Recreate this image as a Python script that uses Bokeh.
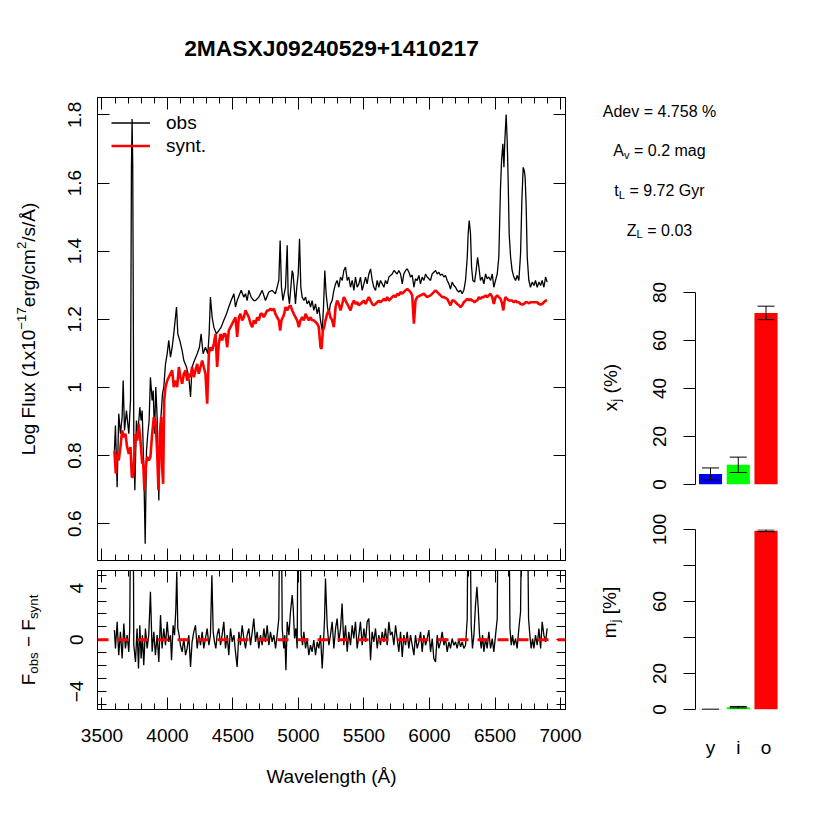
import math
from bokeh.plotting import figure
from bokeh.models import (Range1d, FixedTicker, CustomJSTickFormatter, LinearAxis,
                          Legend, LegendItem, Span, Whisker, TeeHead, ColumnDataSource)
from bokeh.layouts import row, column
from bokeh.embed import file_html
from bokeh.resources import INLINE
from bokeh.core.properties import value

# ---------------- data ----------------
title_text = "2MASXJ09240529+1410217"

obs_wave = [3595, 3603, 3616, 3628, 3641, 3654, 3662, 3672, 3687, 3705, 3718, 3725, 3730, 3735, 3743, 3751,
            3763, 3774, 3789, 3799, 3807, 3819, 3830, 3840, 3850, 3860, 3870, 3883, 3891, 3901, 3911, 3921,
            3934, 3942, 3952, 3962, 3972, 3985, 3998, 4010, 4023, 4036, 4048, 4069, 4079, 4094, 4112, 4125,
            4145, 4163, 4176, 4188, 4206, 4227, 4244, 4257, 4272, 4290, 4308, 4318, 4328, 4341, 4354, 4374,
            4392, 4410, 4430, 4451, 4468, 4486, 4507, 4519, 4532, 4552, 4563, 4583, 4596, 4608, 4621, 4639,
            4659, 4672, 4697, 4723, 4748, 4774, 4799, 4824, 4837, 4850, 4860, 4870, 4881, 4891, 4901, 4914,
            4921, 4931, 4942, 4952, 4959, 4967, 4977, 4987, 4998, 5008, 5018, 5028, 5041, 5054, 5066, 5079,
            5092, 5104, 5117, 5130, 5143, 5155, 5168, 5181, 5191, 5201, 5211, 5222, 5232, 5244, 5257, 5270,
            5283, 5295, 5308, 5321, 5334, 5346, 5359, 5372, 5384, 5397, 5410, 5423, 5435, 5448, 5461, 5473,
            5486, 5499, 5512, 5524, 5537, 5550, 5563, 5575, 5588, 5601, 5613, 5626, 5639, 5652, 5664, 5677,
            5690, 5715, 5728, 5741, 5753, 5766, 5779, 5792, 5804, 5817, 5830, 5843, 5855, 5868, 5881, 5893,
            5906, 5919, 5931, 5944, 5957, 5970, 5982, 6008, 6020, 6033, 6046, 6059, 6071, 6084, 6097, 6110,
            6122, 6135, 6148, 6160, 6173, 6186, 6199, 6211, 6224, 6237, 6249, 6262, 6275, 6288, 6295, 6303,
            6313, 6321, 6331, 6344, 6356, 6367, 6377, 6389, 6402, 6415, 6428, 6440, 6453, 6466, 6479, 6491,
            6504, 6517, 6529, 6542, 6550, 6560, 6568, 6575, 6585, 6593, 6601, 6608, 6619, 6631, 6644, 6657,
            6669, 6682, 6695, 6705, 6715, 6723, 6730, 6738, 6746, 6758, 6771, 6784, 6797, 6809, 6822, 6835,
            6848, 6860, 6873, 6886, 6898]
obs_flux = [0.815, 0.888, 0.707, 0.923, 0.864, 0.913, 1.020, 0.874, 0.932, 0.864, 0.962, 1.646, 1.788, 1.646, 0.864, 0.698,
            0.903, 0.864, 0.942, 0.903, 0.932, 0.766, 0.541, 0.815, 0.864, 0.903, 1.030, 0.962, 0.991, 0.864, 1.001, 0.913,
            0.668, 0.864, 0.923, 0.981, 1.001, 1.069, 1.099, 1.138, 1.089, 1.118, 1.157, 1.236, 1.157, 1.138, 1.108, 1.079,
            1.060, 1.030, 0.972, 1.060, 1.079, 1.099, 1.118, 1.157, 1.099, 1.118, 1.099, 1.157, 1.265, 1.206, 1.177, 1.157,
            1.167, 1.177, 1.197, 1.216, 1.236, 1.255, 1.275, 1.236, 1.255, 1.275, 1.285, 1.265, 1.275, 1.255, 1.285, 1.265,
            1.255, 1.255, 1.265, 1.285, 1.255, 1.280, 1.285, 1.275, 1.294, 1.314, 1.431, 1.294, 1.255, 1.275, 1.294, 1.417,
            1.275, 1.245, 1.294, 1.343, 1.333, 1.294, 1.245, 1.294, 1.333, 1.436, 1.294, 1.265, 1.255, 1.265, 1.245, 1.255,
            1.236, 1.255, 1.226, 1.245, 1.216, 1.236, 1.197, 1.167, 1.236, 1.343, 1.275, 1.236, 1.216, 1.245, 1.255, 1.285,
            1.304, 1.314, 1.294, 1.324, 1.314, 1.343, 1.353, 1.314, 1.324, 1.294, 1.314, 1.285, 1.324, 1.294, 1.304, 1.324,
            1.285, 1.304, 1.324, 1.304, 1.333, 1.348, 1.314, 1.294, 1.285, 1.314, 1.294, 1.314, 1.304, 1.294, 1.314, 1.304,
            1.324, 1.333, 1.343, 1.338, 1.333, 1.343, 1.333, 1.304, 1.333, 1.343, 1.348, 1.338, 1.324, 1.330, 1.294, 1.319,
            1.314, 1.329, 1.304, 1.324, 1.314, 1.333, 1.324, 1.314, 1.333, 1.338, 1.343, 1.333, 1.338, 1.329, 1.333, 1.324,
            1.329, 1.314, 1.304, 1.289, 1.309, 1.299, 1.294, 1.285, 1.280, 1.285, 1.275, 1.285, 1.314, 1.382, 1.451, 1.490,
            1.451, 1.353, 1.314, 1.309, 1.343, 1.382, 1.353, 1.314, 1.324, 1.304, 1.333, 1.319, 1.324, 1.314, 1.333, 1.294,
            1.314, 1.333, 1.382, 1.588, 1.666, 1.715, 1.646, 1.725, 1.801, 1.725, 1.597, 1.451, 1.382, 1.343, 1.324, 1.314,
            1.329, 1.314, 1.392, 1.549, 1.646, 1.637, 1.617, 1.529, 1.382, 1.314, 1.294, 1.309, 1.299, 1.314, 1.294, 1.309,
            1.299, 1.314, 1.294, 1.324, 1.309]

syn_wave = [3595, 3606, 3616, 3628, 3641, 3654, 3667, 3679, 3692, 3705, 3718, 3728, 3738, 3748, 3758, 3769,
            3781, 3794, 3807, 3814, 3824, 3835, 3845, 3858, 3870, 3883, 3896, 3908, 3921, 3931, 3942, 3952,
            3959, 3967, 3975, 3985, 3998, 4010, 4023, 4036, 4048, 4061, 4074, 4087, 4099, 4112, 4125, 4138,
            4150, 4163, 4176, 4188, 4201, 4214, 4227, 4239, 4252, 4265, 4277, 4290, 4303, 4316, 4328, 4341,
            4354, 4367, 4379, 4392, 4405, 4417, 4430, 4443, 4456, 4468, 4481, 4494, 4507, 4519, 4532, 4545,
            4557, 4570, 4583, 4596, 4608, 4621, 4634, 4647, 4659, 4672, 4685, 4697, 4710, 4723, 4735, 4748,
            4761, 4774, 4786, 4799, 4812, 4824, 4837, 4850, 4860, 4870, 4881, 4891, 4901, 4914, 4926, 4939,
            4952, 4964, 4977, 4990, 5003, 5015, 5028, 5041, 5054, 5066, 5079, 5092, 5104, 5117, 5130, 5143,
            5155, 5168, 5176, 5186, 5196, 5206, 5219, 5232, 5244, 5257, 5270, 5283, 5295, 5308, 5321, 5334,
            5346, 5359, 5372, 5384, 5397, 5410, 5423, 5435, 5448, 5461, 5473, 5486, 5499, 5512, 5524, 5537,
            5550, 5563, 5575, 5588, 5601, 5613, 5626, 5639, 5652, 5664, 5677, 5690, 5715, 5728, 5741, 5753,
            5766, 5779, 5792, 5804, 5817, 5830, 5843, 5855, 5868, 5881, 5893, 5906, 5931, 5957, 5982, 6008,
            6033, 6046, 6059, 6071, 6084, 6097, 6110, 6135, 6148, 6160, 6173, 6186, 6199, 6211, 6224, 6237,
            6249, 6262, 6275, 6288, 6303, 6313, 6321, 6331, 6344, 6356, 6364, 6377, 6389, 6402, 6415, 6428,
            6440, 6453, 6466, 6479, 6491, 6504, 6517, 6529, 6542, 6555, 6563, 6573, 6580, 6593, 6606, 6619,
            6631, 6644, 6657, 6669, 6682, 6695, 6708, 6720, 6733, 6746, 6758, 6771, 6784, 6797, 6822, 6835,
            6848, 6860, 6873, 6886, 6898]
syn_flux = [0.815, 0.747, 0.805, 0.786, 0.825, 0.874, 0.854, 0.864, 0.825, 0.805, 0.825, 0.737, 0.737, 0.805, 0.864, 0.844,
            0.893, 0.844, 0.776, 0.786, 0.698, 0.766, 0.796, 0.786, 0.796, 0.864, 0.913, 0.903, 0.815, 0.698, 0.864, 0.913,
            0.766, 0.717, 0.962, 1.001, 1.020, 1.030, 1.040, 1.050, 1.001, 1.020, 1.001, 1.060, 1.030, 1.011, 1.040, 1.050,
            1.020, 1.040, 1.030, 1.060, 1.030, 1.050, 1.069, 1.040, 1.060, 1.079, 1.060, 1.040, 0.952, 1.099, 1.118, 1.108,
            1.128, 1.157, 1.060, 1.128, 1.157, 1.138, 1.157, 1.157, 1.118, 1.167, 1.177, 1.187, 1.197, 1.206, 1.148, 1.206,
            1.216, 1.197, 1.206, 1.226, 1.216, 1.206, 1.187, 1.177, 1.197, 1.187, 1.206, 1.197, 1.216, 1.216, 1.206, 1.216,
            1.226, 1.226, 1.231, 1.226, 1.231, 1.216, 1.206, 1.197, 1.167, 1.197, 1.206, 1.216, 1.236, 1.226, 1.236, 1.241,
            1.226, 1.216, 1.206, 1.197, 1.177, 1.197, 1.206, 1.197, 1.216, 1.206, 1.197, 1.206, 1.197, 1.197, 1.192, 1.187,
            1.177, 1.118, 1.113, 1.167, 1.177, 1.197, 1.216, 1.226, 1.206, 1.197, 1.177, 1.236, 1.255, 1.245, 1.226, 1.245,
            1.265, 1.255, 1.245, 1.236, 1.226, 1.245, 1.255, 1.245, 1.250, 1.241, 1.245, 1.250, 1.255, 1.245, 1.255, 1.265,
            1.255, 1.245, 1.241, 1.245, 1.250, 1.255, 1.250, 1.255, 1.260, 1.255, 1.265, 1.255, 1.265, 1.270, 1.265, 1.275,
            1.270, 1.280, 1.275, 1.280, 1.285, 1.289, 1.285, 1.280, 1.270, 1.187, 1.255, 1.265, 1.270, 1.275, 1.265, 1.270,
            1.280, 1.285, 1.280, 1.275, 1.270, 1.265, 1.265, 1.260, 1.250, 1.241, 1.255, 1.255, 1.250, 1.245, 1.241, 1.236,
            1.241, 1.250, 1.255, 1.260, 1.255, 1.260, 1.255, 1.255, 1.250, 1.255, 1.255, 1.265, 1.260, 1.265, 1.265, 1.270,
            1.265, 1.270, 1.275, 1.265, 1.245, 1.265, 1.270, 1.265, 1.260, 1.245, 1.226, 1.255, 1.265, 1.260, 1.255, 1.255,
            1.255, 1.250, 1.255, 1.250, 1.250, 1.245, 1.243, 1.245, 1.250, 1.250, 1.247, 1.250, 1.250, 1.250, 1.250, 1.245,
            1.243, 1.245, 1.250, 1.255, 1.255]

res_wave = [3595, 3603, 3616, 3628, 3641, 3654, 3667, 3679, 3692, 3705, 3712, 3720, 3730, 3738, 3743, 3756,
            3768, 3779, 3789, 3799, 3809, 3819, 3832, 3845, 3857, 3870, 3883, 3896, 3908, 3921, 3934, 3947,
            3959, 3972, 3985, 3998, 4010, 4023, 4031, 4043, 4054, 4064, 4071, 4079, 4089, 4099, 4112, 4125,
            4138, 4150, 4163, 4176, 4188, 4201, 4214, 4227, 4239, 4252, 4265, 4277, 4290, 4303, 4316, 4328,
            4339, 4349, 4359, 4369, 4379, 4392, 4405, 4417, 4430, 4443, 4456, 4468, 4481, 4494, 4507, 4519,
            4532, 4545, 4557, 4570, 4583, 4596, 4608, 4621, 4634, 4647, 4659, 4672, 4685, 4697, 4710, 4723,
            4736, 4748, 4761, 4774, 4786, 4799, 4812, 4825, 4837, 4850, 4858, 4868, 4876, 4888, 4896, 4904,
            4914, 4927, 4939, 4952, 4960, 4970, 4980, 4990, 4998, 5010, 5021, 5031, 5041, 5054, 5066, 5079,
            5092, 5104, 5117, 5130, 5143, 5155, 5168, 5181, 5189, 5199, 5206, 5219, 5232, 5244, 5257, 5270,
            5283, 5295, 5308, 5321, 5333, 5346, 5359, 5372, 5384, 5397, 5410, 5422, 5435, 5448, 5461, 5473,
            5486, 5499, 5512, 5524, 5537, 5550, 5562, 5575, 5588, 5601, 5613, 5626, 5639, 5652, 5664, 5677,
            5690, 5702, 5715, 5728, 5741, 5753, 5766, 5779, 5792, 5804, 5817, 5830, 5842, 5855, 5868, 5881,
            5893, 5906, 5919, 5932, 5944, 5957, 5970, 5982, 5995, 6008, 6021, 6033, 6046, 6059, 6071, 6084,
            6097, 6110, 6122, 6135, 6148, 6160, 6173, 6186, 6199, 6211, 6224, 6237, 6250, 6262, 6275, 6288,
            6295, 6308, 6318, 6328, 6339, 6351, 6362, 6372, 6382, 6395, 6405, 6415, 6428, 6440, 6453, 6466,
            6479, 6491, 6504, 6517, 6524, 6535, 6568, 6596, 6606, 6614, 6624, 6634, 6644, 6657, 6669, 6682,
            6695, 6705, 6715, 6746, 6756, 6766, 6776, 6787, 6797, 6809, 6822, 6835, 6848, 6860, 6873, 6886,
            6898]
res_flux = [0.75, -0.67, 1.39, -1.19, 0.62, -1.45, 1.26, -0.67, 0.36, -0.93, 0.88, 12, 12, 12, -0.42, -1.71,
            0.88, -2.23, 1.13, -1.45, 0.36, -1.97, 0.88, -0.67, 0.36, 3.72, -0.93, 0.62, -1.19, 0.36, -1.71, 1.91,
            -0.67, 0.88, -0.42, 1.39, -0.16, 0.36, -1.58, 1.13, 0.36, 2.43, 5.27, 0.88, 0.36, -0.42, -0.93, 0.10,
            -1.19, -0.67, 0.36, -2.10, -0.16, 0.62, 1.13, -0.67, 0.36, -0.42, 0.62, -0.67, 0.10, 0.88, -0.42, 0.36,
            5.01, 0.62, -0.16, -0.67, 0.36, 0.88, -0.42, 0.36, 1.39, -0.67, 0.36, -1.19, 0.88, -0.16, 0.36, -0.93,
            -2.10, 0.62, -0.42, 1.13, 0.10, -0.67, 0.36, 0.88, -0.42, 0.62, 1.65, -0.16, 0.62, -0.67, 0.36, -0.42,
            0.88, -0.16, 1.13, -0.42, 0.62, -0.16, 0.36, -0.67, 0.36, 1.65, 12, 12, 0.88, -0.67, 0.36, -2.35,
            1.39, 0.36, 2.17, 3.46, 2.43, 0.10, 0.88, -0.67, 12, 12, 0.36, -0.42, 0.62, -0.67, 0.10, -1.19,
            -0.42, -0.93, -0.03, -1.19, -0.16, -0.67, 0.36, -2.23, -0.67, 1.65, 4.75, 1.13, -0.42, 0.36, 1.39, -0.67,
            0.88, 1.65, -0.16, 0.88, 2.81, -0.42, 1.13, -0.93, 0.62, -0.42, 1.13, 0.10, 1.39, -0.67, 0.36, 1.39,
            -0.42, 0.88, -0.16, 1.39, 1.65, -1.58, 0.62, -0.16, 0.88, -0.67, 0.36, -0.42, 0.62, -0.16, 0.88, -0.42,
            1.39, 0.36, 0.62, -0.42, 1.13, 0.10, -0.93, 0.62, -1.32, 0.36, -0.42, 0.62, -0.67, 0.36, -0.42, -1.19,
            0.36, -0.67, -0.16, 0.62, -0.93, 0.36, -0.42, 0.10, 0.75, -0.93, 0.10, -1.45, -1.71, 0.36, -0.67, -0.16,
            0.62, -0.42, 0.10, -0.93, -0.16, -0.67, 0.10, -0.42, -0.16, -0.67, 0.04, -0.55, -0.16, -0.67, -0.42, 1.65,
            12, 12, 1.13, -0.67, 0.36, 2.68, 4.11, 2.43, 0.36, -0.67, 0.36, -0.93, 0.10, -0.67, 0.62, -0.67,
            0.10, -0.93, 0.36, 1.65, 12, 12, 12, 12, 12, 0.88, -0.42, 0.36, -0.42, 0.10, -0.67, 0.88,
            2.17, 12, 12, 12, 1.65, 0.36, -0.67, 0.10, -0.67, 0.36, -0.42, 0.88, -0.67, 1.39, 0.36, -0.16,
            0.88]

wave_ticks = [3500, 4000, 4500, 5000, 5500, 6000, 6500, 7000]
wave_minor = list(range(3500, 7001, 100))
flux_ticks = [0.6, 0.8, 1.0, 1.2, 1.4, 1.6, 1.8]
res_ticks = [-5, -4, -3, -2, -1, 0, 1, 2, 3, 4, 5]

ages = ["y", "i", "o"]
age_colors = ["#0000FF", "#00FF00", "#FF0000"]
xj = [4.4, 8.2, 71.5]
xj_err = [2.5, 3.2, 2.8]
mj = [0.1, 1.3, 99.3]
mj_err = [0.05, 0.4, 0.5]
xj_ticks = [0, 20, 40, 60, 80]
mj_ticks = [0, 20, 40, 60, 80, 100]

adev = "4.758"
av = "0.2"
t_l = "9.72"
z_l = "0.03"

# ---------------- helpers ----------------
FONT = "Liberation Sans"
FS = 19.0
W = {' ': 278, '(': 333, ')': 333, '%': 889, '.': 278, '/': 278, '=': 584, '\u2212': 584, '[': 278,
     ']': 278, '-': 333, 'A': 667, 'F': 611, 'G': 778, 'L': 556, 'Z': 611, '\u00c5': 667, 'a': 556,
     'b': 556, 'c': 500, 'd': 556, 'e': 556, 'g': 556, 'j': 222, 'l': 222, 'm': 833, 'n': 556,
     'o': 556, 'r': 333, 's': 500, 't': 278, 'u': 556, 'v': 500, 'x': 500, 'y': 500}
for _d in "0123456789":
    W[_d] = 556
# bold widths for the title
WB = {'M': 833, 'A': 722, 'S': 667, 'X': 667, 'J': 556, '+': 584}


def tw(s, size):
    return sum(W.get(c, 556) for c in s) / 1000.0 * size


def twb(s, size):
    return sum(WB.get(c, 556) for c in s) / 1000.0 * size


def compose(pieces, size):
    out, cum = [], 0.0
    for t, k in pieces:
        s = size if k == "n" else size * 0.7
        off = 0.0 if k == "n" else (0.27 * size if k == "sub" else -0.36 * size)
        body = t.lstrip(" ")
        cum += tw(t[:len(t) - len(body)], s)     # leading spaces are collapsed in SVG
        out.append((cum, off, body, s))
        cum += tw(body, s)
    return out, cum


def hline(cx, cy, pieces, size):
    items, total = compose(pieces, size)
    return [(cx - total / 2 + a, cy + o, t, s) for a, o, t, s in items]


def vline(cx, cy, pieces, size):
    items, total = compose(pieces, size)
    return [(cx + o, cy + total / 2 - a, t, s) for a, o, t, s in items]


def draw_pieces(p, items, angle=0.0, style="normal"):
    src = ColumnDataSource(dict(x=[i[0] for i in items], y=[i[1] for i in items],
                                text=[i[2] for i in items], size=["%.1fpx" % i[3] for i in items]))
    p.text(x="x", y="y", text="text", text_font_size="size", source=src, text_font=value(FONT),
           text_font_style=style, angle=angle, text_align="left", text_baseline="middle",
           text_color="black")


def canvas(x0, x1, y0, y1, bl=0, br=0):
    # frame spans x0..x1 (page px); borders bl/br lie outside it
    p = figure(width=x1 - x0 + bl + br, height=y1 - y0, x_range=Range1d(x0, x1),
               y_range=Range1d(y1, y0), output_backend="svg", toolbar_location=None,
               x_axis_location=None, y_axis_location=None, min_border=0,
               min_border_left=bl, min_border_right=br, outline_line_color=None)
    p.xgrid.visible = False
    p.ygrid.visible = False
    return p


def blank():
    return CustomJSTickFormatter(code="return ''")


def style_axis(ax, labels=True):
    ax.axis_line_color = "black"
    ax.major_tick_line_color = "black"
    ax.minor_tick_line_color = "black"
    if labels:
        ax.major_label_text_font = FONT
        ax.major_label_text_font_size = "19px"
        ax.major_label_text_color = "black"
    else:
        ax.formatter = blank()
        ax.major_label_standoff = 0
        ax.major_label_text_font_size = "0px"
    ax.axis_label_text_font = FONT
    ax.axis_label_text_font_size = "19px"
    ax.axis_label_text_font_style = "normal"
    ax.axis_label_text_color = "black"


def wave_axis(p, side, labels=False):
    ax = LinearAxis(ticker=FixedTicker(ticks=wave_ticks, minor_ticks=wave_minor),
                    major_tick_in=12, major_tick_out=0, minor_tick_in=6, minor_tick_out=0)
    style_axis(ax, labels)
    p.add_layout(ax, side)
    return ax


# ---------------- left label column ----------------
fig_l = canvas(0, 50, 0, 800)
ylab_main = [("Log Flux (1x10", "n"), ("\u221217", "sup"), ("erg/cm", "n"), ("2", "sup"),
             ("/s/\u00c5)", "n")]
ylab_res = [("F", "n"), ("obs", "sub"), (" \u2212 F", "n"), ("synt", "sub")]
draw_pieces(fig_l, vline(28, 328.5, ylab_main, FS) + vline(28, 639.5, ylab_res, FS), angle=math.pi / 2)

# ---------------- title (frame aligned with the spectrum frame: x 97..565) ----------------
fig_t = canvas(97, 565, 0, 78, bl=47, br=25)
TS = 22.8
fig_t.text(x=[331 - twb(title_text, TS) / 2], y=[47], text=[title_text], text_font=value(FONT),
           text_font_style="bold", text_font_size="%.1fpx" % TS, text_align="left",
           text_baseline="middle", text_color="black")

# ---------------- main spectrum ----------------
xr = Range1d(3466, 7038)
main = figure(width=540, height=487, x_range=xr, y_range=Range1d(0.492, 1.851), output_backend="svg",
              toolbar_location=None, min_border_left=47, min_border_right=25, min_border_top=19,
              min_border_bottom=5, x_axis_location=None, y_axis_location=None,
              outline_line_color="black", outline_line_width=1)
main.xgrid.visible = False
main.ygrid.visible = False
r_obs = main.line(obs_wave, obs_flux, line_color="black", line_width=1.3)
r_syn = main.line(syn_wave, syn_flux, line_color="#FF0000", line_width=2.6)
wave_axis(main, "below")
wave_axis(main, "above")
ax = LinearAxis(ticker=FixedTicker(ticks=flux_ticks), major_tick_in=12, major_tick_out=0,
                major_label_orientation="vertical", major_label_standoff=16)
style_axis(ax)
ax.formatter = CustomJSTickFormatter(code="return Math.abs(tick-1)<1e-9 ? '1' : tick.toFixed(1);")
main.add_layout(ax, "left")
ax = LinearAxis(ticker=FixedTicker(ticks=flux_ticks), major_tick_in=12, major_tick_out=0)
style_axis(ax, False)
main.add_layout(ax, "right")
legend = Legend(items=[LegendItem(label="obs", renderers=[r_obs]),
                       LegendItem(label="synt.", renderers=[r_syn])],
                location="top_left", margin=14, padding=0, spacing=0, glyph_width=39,
                glyph_height=23, label_height=23, label_standoff=16, label_text_font=FONT,
                label_text_font_size="19px", label_text_color="black",
                border_line_color=None, background_fill_alpha=0)
main.add_layout(legend)

# ---------------- residuals ----------------
res = figure(width=540, height=235, x_range=xr, y_range=Range1d(-5.4, 5.37), output_backend="svg",
             toolbar_location=None, min_border_left=47, min_border_right=25, min_border_top=5,
             min_border_bottom=91, x_axis_location=None, y_axis_location=None,
             outline_line_color="black", outline_line_width=1)
res.xgrid.visible = False
res.ygrid.visible = False
res.line(res_wave, res_flux, line_color="black", line_width=1.3)
res.add_layout(Span(location=0, dimension="width", line_color="#FF0000", line_width=3,
                    line_dash="11 9"))
ax = wave_axis(res, "below", labels=True)
ax.major_label_standoff = 19
ax.axis_label = "Wavelength (\u00c5)"
ax.axis_label_standoff = 21
wave_axis(res, "above")
ax = LinearAxis(ticker=FixedTicker(ticks=res_ticks), major_tick_in=9, major_tick_out=0,
                major_label_orientation="vertical", major_label_standoff=14)
style_axis(ax)
ax.formatter = CustomJSTickFormatter(
    code="if (Math.abs(tick % 4) > 1e-9) return ''; return tick < 0 ? '\u2212' + (-tick) : '' + tick;")
res.add_layout(ax, "left")
ax = LinearAxis(ticker=FixedTicker(ticks=res_ticks), major_tick_in=9, major_tick_out=0)
style_axis(ax, False)
res.add_layout(ax, "right")

# ---------------- statistics text ----------------
fig_s = canvas(590, 814, 0, 270)
SF = 16.0
stats = (hline(659, 111.2, [("Adev = %s %%" % adev, "n")], SF)
         + hline(659, 150.0, [("A", "n"), ("v", "sub"), (" = %s mag" % av, "n")], SF)
         + hline(659, 190.2, [("t", "n"), ("L", "sub"), (" = %s Gyr" % t_l, "n")], SF)
         + hline(659, 229.5, [("Z", "n"), ("L", "sub"), (" = %s" % z_l, "n")], SF))
draw_pieces(fig_s, stats)

# ---------------- bar label column ----------------
fig_b = canvas(590, 632, 270, 800)
draw_pieces(fig_b, vline(610, 387, [("x", "n"), ("j", "sub"), (" (%)", "n")], FS)
            + vline(609, 612, [("m", "n"), ("j", "sub"), (" [%]", "n")], FS), angle=math.pi / 2)

bar_x = [0.7 + 1.2 * i for i in range(len(ages))]


def bar_fig(height, top_b, bottom_b, ymax, ticks, vals, errs, fmt_code):
    p = figure(width=182, height=height, x_range=Range1d(0.051, 3.683), y_range=Range1d(0, ymax),
               output_backend="svg", toolbar_location=None, min_border_left=63, min_border_right=35,
               min_border_top=top_b, min_border_bottom=bottom_b, x_axis_location=None,
               y_axis_location=None, outline_line_color=None)
    p.xgrid.visible = False
    p.ygrid.visible = False
    src = ColumnDataSource(dict(x=bar_x, top=vals, color=age_colors,
                                upper=[v + e for v, e in zip(vals, errs)],
                                lower=[v - e for v, e in zip(vals, errs)]))
    p.vbar(x="x", top="top", bottom=0, width=1.0, source=src, fill_color="color", line_color=None)
    p.add_layout(Whisker(base="x", upper="upper", lower="lower", source=src, line_color="black",
                         line_width=1, level="overlay",
                         upper_head=TeeHead(size=17, line_color="black", line_width=1),
                         lower_head=TeeHead(size=17, line_color="black", line_width=1)))
    a = LinearAxis(ticker=FixedTicker(ticks=ticks), major_tick_out=12, major_tick_in=0,
                   major_label_orientation="vertical", major_label_standoff=18)
    style_axis(a)
    a.formatter = CustomJSTickFormatter(code=fmt_code)
    p.add_layout(a, "left")
    return p


fig_xj = bar_fig(230, 22, 16, 80, xj_ticks, xj, xj_err, "return '' + tick;")
fig_mj = bar_fig(300, 29, 91, 100, mj_ticks, mj, mj_err,
                 "return (tick == 40 || tick == 80) ? '' : '' + tick;")
ax = LinearAxis(ticker=FixedTicker(ticks=bar_x), major_label_standoff=21)
style_axis(ax)
ax.formatter = CustomJSTickFormatter(args=dict(labels=ages), code="return labels[index];")
ax.axis_line_color = None
ax.major_tick_line_color = None
fig_mj.add_layout(ax, "below")

layout = row(fig_l,
             column(fig_t, main, res),
             column(fig_s, row(fig_b, column(fig_xj, fig_mj))))

open("out.html", "w").write(file_html(layout, INLINE))
